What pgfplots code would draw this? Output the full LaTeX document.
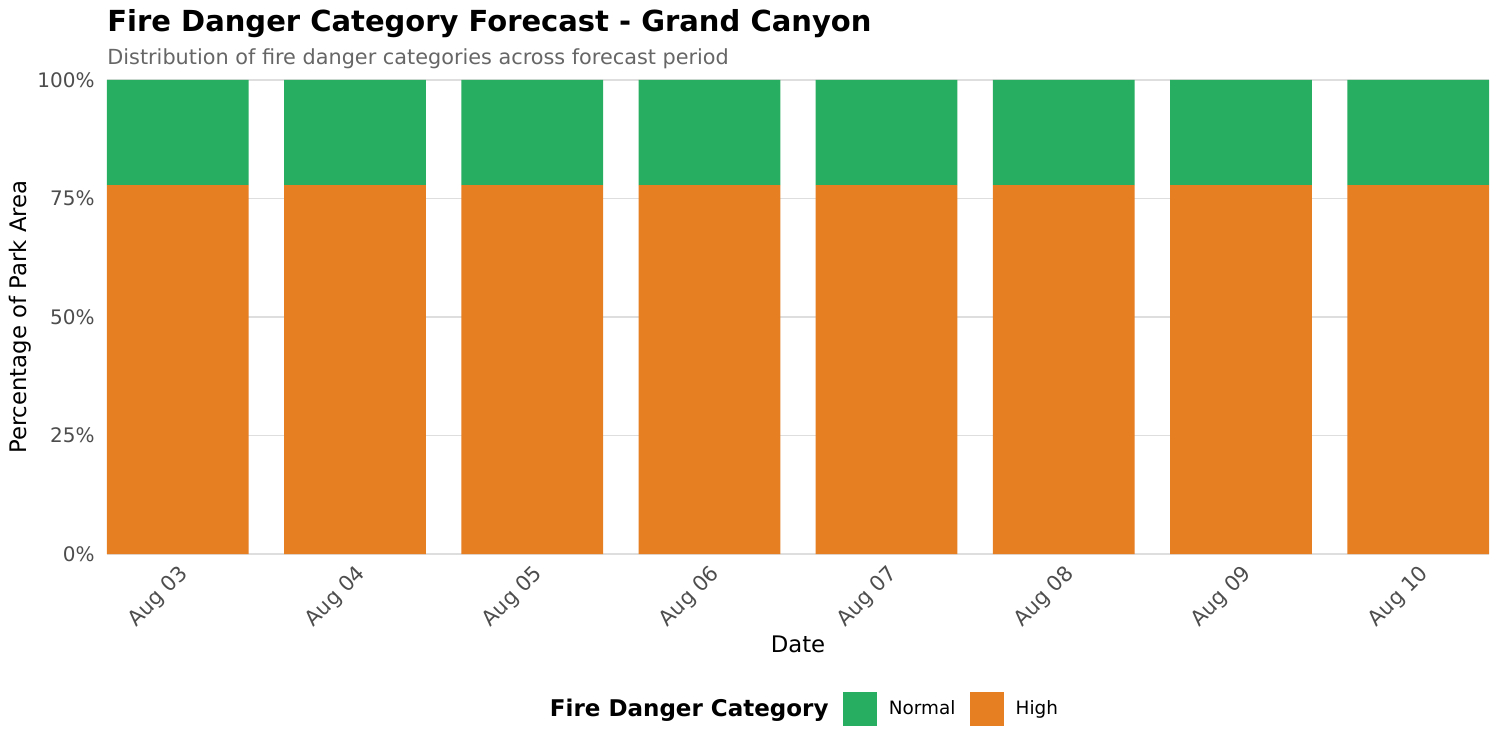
\documentclass[border=0pt]{standalone}
\usepackage{fontspec}
\setmainfont{DejaVu Sans}
\usepackage{pgfplots}
\pgfplotsset{compat=1.18}
\definecolor{normalc}{HTML}{27AE60}
\definecolor{highc}{HTML}{E67E22}
\definecolor{tickgray}{HTML}{4D4D4D}
\definecolor{subgray}{HTML}{666666}
\definecolor{gridgray}{HTML}{DEDEDE}

\begin{document}
\begin{tikzpicture}
\begin{axis}[
    at={(53.5pt,98pt)}, anchor=south west,
    scale only axis, width=691pt, height=237pt,
    ybar stacked, bar width=0.8,
    xmin=-0.4, xmax=7.4, ymin=0, ymax=100,
    xtick={0,1,2,3,4,5,6,7},
    xticklabels={Aug 03, Aug 04, Aug 05, Aug 06, Aug 07, Aug 08, Aug 09, Aug 10},
    ytick={0,25,50,75,100},
    yticklabels={0\%, 25\%, 50\%, 75\%, 100\%},
    ymajorgrids, grid style={draw=gridgray, line width=0.9pt},
    axis line style={draw=none},
    major tick length=0pt,
    tick label style={font=\fontsize{10}{12}\selectfont, text=tickgray},
    yticklabel style={anchor=east, inner sep=0pt, xshift=-6pt},
    xticklabel style={font=\fontsize{10.5}{12}\selectfont, yshift=-2.5pt,
        anchor=north east, inner sep=1.5pt, rotate=45},
    xlabel={Date},
    xlabel style={at={(axis description cs:0.5,-0.2068)}, anchor=base,
        font=\fontsize{11.4}{14}\selectfont},
    ylabel={Percentage of Park Area},
    ylabel style={at={(axis description cs:-0.063,0.5)}, anchor=center,
        font=\fontsize{11.4}{14}\selectfont},
    legend style={at={(axis description cs:0.5,-0.327)}, anchor=center,
        draw=none, font=\fontsize{9.2}{11}\selectfont,
        nodes={inner sep=0pt}, cells={anchor=west},
        /tikz/every even column/.append style={column sep=7.25pt},
        /tikz/every odd column/.append style={column sep=6pt}},
    legend columns=3,
]
\addlegendimage{empty legend}
\addlegendentry{\fontsize{11.5}{14}\selectfont\bfseries Fire Danger Category}
\addlegendimage{legend image code/.code={\fill[normalc] (0pt,-8.25pt) rectangle (16.5pt,8.25pt);}}
\addlegendentry{Normal}
\addlegendimage{legend image code/.code={\fill[highc] (0pt,-8.25pt) rectangle (16.5pt,8.25pt);}}
\addlegendentry{High}
% High at the bottom, Normal stacked on top
\addplot [forget plot, draw=none, fill=highc] coordinates {
    (0,77.8) (1,77.8) (2,77.8) (3,77.8) (4,77.8) (5,77.8) (6,77.8) (7,77.8)};
\addplot [forget plot, draw=none, fill=normalc] coordinates {
    (0,22.2) (1,22.2) (2,22.2) (3,22.2) (4,22.2) (5,22.2) (6,22.2) (7,22.2)};
\end{axis}
\node[anchor=base west, inner sep=0pt, font=\fontsize{14.5}{17}\selectfont\bfseries]
    at (53.5pt,359pt) {Fire Danger Category Forecast - Grand Canyon};
\node[anchor=base west, inner sep=0pt, text=subgray, font=\fontsize{10.4}{12}\selectfont]
    at (53.5pt,342.5pt) {Distribution of fire danger categories across forecast period};
\pgfresetboundingbox
\path[use as bounding box] (0,0) rectangle (750pt,375pt);
\end{tikzpicture}
\end{document}
